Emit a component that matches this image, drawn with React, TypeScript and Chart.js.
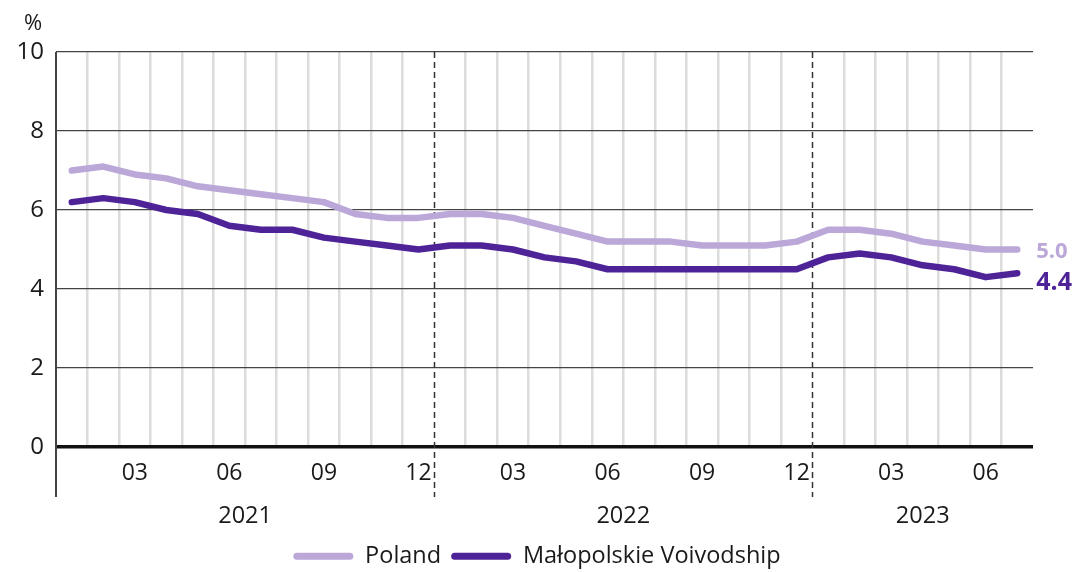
import React, { useEffect, useRef } from "react";
import { Chart, registerables } from "chart.js";

Chart.register(...registerables);

const categories = [
  "2021-01", "2021-02", "2021-03", "2021-04", "2021-05", "2021-06",
  "2021-07", "2021-08", "2021-09", "2021-10", "2021-11", "2021-12",
  "2022-01", "2022-02", "2022-03", "2022-04", "2022-05", "2022-06",
  "2022-07", "2022-08", "2022-09", "2022-10", "2022-11", "2022-12",
  "2023-01", "2023-02", "2023-03", "2023-04", "2023-05", "2023-06",
  "2023-07",
];
const years = ["2021", "2022", "2023"];
const monthTickLabels = ["03", "06", "09", "12"];
const seriesNames = ["Poland", "Małopolskie Voivodship"];
const polandValues = [
  7.0, 7.1, 6.9, 6.8, 6.6, 6.5, 6.4, 6.3, 6.2, 5.9, 5.8, 5.8,
  5.9, 5.9, 5.8, 5.6, 5.4, 5.2, 5.2, 5.2, 5.1, 5.1, 5.1, 5.2,
  5.5, 5.5, 5.4, 5.2, 5.1, 5.0, 5.0,
];
const malopolskieValues = [
  6.2, 6.3, 6.2, 6.0, 5.9, 5.6, 5.5, 5.5, 5.3, 5.2, 5.1, 5.0,
  5.1, 5.1, 5.0, 4.8, 4.7, 4.5, 4.5, 4.5, 4.5, 4.5, 4.5, 4.5,
  4.8, 4.9, 4.8, 4.6, 4.5, 4.3, 4.4,
];
const yMin = 0;
const yMax = 10;
const yStep = 2;
const unitLabel = "%";

const FONT = "'Open Sans', 'Noto Sans', sans-serif";
const LIGHT = "#BBA8D8";
const DARK = "#4F2398";
const TEXT = "#1a1a1a";

const decorPlugin = {
  id: "decor",
  beforeDatasetsDraw(chart: any) {
    const { ctx, chartArea, scales } = chart;
    const x = scales.x;
    const step = x.getPixelForValue(1) - x.getPixelForValue(0);
    ctx.save();
    // left axis line, extending below zero
    ctx.strokeStyle = "#444";
    ctx.lineWidth = 2;
    ctx.beginPath();
    ctx.moveTo(chartArea.left, chartArea.top);
    ctx.lineTo(chartArea.left, chartArea.bottom + 50);
    ctx.stroke();
    // dashed year separators
    ctx.setLineDash([6, 4]);
    ctx.lineWidth = 1.5;
    ctx.strokeStyle = "#333";
    categories.forEach((c, i) => {
      if (i > 0 && c.endsWith("-01")) {
        const px = Math.round(x.getPixelForValue(i) - step / 2) + 0.5;
        ctx.beginPath();
        ctx.moveTo(px, chartArea.top);
        ctx.lineTo(px, chartArea.bottom + 50);
        ctx.stroke();
      }
    });
    ctx.restore();
  },
  afterDraw(chart: any) {
    const { ctx, chartArea, scales } = chart;
    const x = scales.x;
    const step = x.getPixelForValue(1) - x.getPixelForValue(0);
    ctx.save();
    ctx.fillStyle = TEXT;
    ctx.font = `23.5px ${FONT}`;
    ctx.textAlign = "center";
    ctx.textBaseline = "middle";
    // year labels
    years.forEach((y) => {
      const idx = categories.map((c, i) => (c.startsWith(y) ? i : -1)).filter((i) => i >= 0);
      const left = x.getPixelForValue(idx[0]) - step / 2;
      const right = Math.min(x.getPixelForValue(idx[idx.length - 1]) + step / 2, chartArea.right);
      ctx.fillText(y, (left + right) / 2, chartArea.bottom + 69);
    });
    // unit label
    ctx.font = `22px ${FONT}`;
    ctx.fillText(unitLabel, 33, 24);
    // end value labels
    ctx.textAlign = "left";
    const offsets = [2, 10];
    const sizes = [22, 25];
    const colors = [LIGHT, DARK];
    [polandValues, malopolskieValues].forEach((vals, di) => {
      const meta = chart.getDatasetMeta(di);
      const pt = meta.data[vals.length - 1];
      ctx.font = `bold ${sizes[di]}px ${FONT}`;
      ctx.fillStyle = colors[di];
      ctx.fillText(vals[vals.length - 1].toFixed(1), pt.x + 19, pt.y + offsets[di]);
    });
    ctx.restore();
  },
};

export default function App() {
  const canvasRef = useRef<HTMLCanvasElement | null>(null);

  useEffect(() => {
    if (!canvasRef.current) return;
    const chart = new Chart(canvasRef.current, {
      type: "line",
      data: {
        labels: categories,
        datasets: [
          {
            label: seriesNames[0],
            data: polandValues,
            borderColor: LIGHT,
            backgroundColor: LIGHT,
            borderWidth: 6.5,
            borderCapStyle: "round",
            borderJoinStyle: "round",
            pointRadius: 0,
            tension: 0,
          },
          {
            label: seriesNames[1],
            data: malopolskieValues,
            borderColor: DARK,
            backgroundColor: DARK,
            borderWidth: 6.5,
            borderCapStyle: "round",
            borderJoinStyle: "round",
            pointRadius: 0,
            tension: 0,
          },
        ],
      },
      options: {
        responsive: false,
        animation: false,
        devicePixelRatio: 1,
        layout: { padding: { top: 52, left: 0, right: 0, bottom: -6 } },
        plugins: {
          tooltip: { enabled: false },
          legend: {
            position: "bottom",
            labels: {
              font: { family: FONT, size: 23.5 },
              color: TEXT,
              boxWidth: 60,
              boxHeight: 7,
              useBorderRadius: true,
              borderRadius: 3.5,
              padding: 10,
              generateLabels: (c: any) =>
                (Chart.defaults.plugins.legend.labels.generateLabels as any)(c).map((l: any) => ({
                  ...l,
                  lineWidth: 0,
                  fillStyle: l.strokeStyle,
                })),
            },
          },
        },
        scales: {
          x: {
            type: "category",
            offset: true,
            border: { display: false },
            grid: {
              offset: true,
              drawTicks: false,
              lineWidth: 2.5,
              color: (ctx: any) => {
                const i = ctx.index;
                if (i === undefined || i === 0) return "rgba(0,0,0,0)";
                if (categories[i] && categories[i].endsWith("-01")) return "rgba(0,0,0,0)";
                return "#dcdcdc";
              },
            },
            ticks: {
              autoSkip: false,
              maxRotation: 0,
              minRotation: 0,
              padding: 13,
              color: TEXT,
              font: { family: FONT, size: 23 },
              callback: (_v: any, index: number) => {
                const m = categories[index].slice(5);
                return monthTickLabels.includes(m) ? m : "";
              },
            },
            afterFit: (scale: any) => {
              scale.height = 87.5;
            },
          },
          y: {
            min: yMin,
            max: yMax,
            border: { display: false },
            grid: {
              drawTicks: false,
              color: (ctx: any) => (ctx.tick && ctx.tick.value === 0 ? "#111" : "#444"),
              lineWidth: (ctx: any) => (ctx.tick && ctx.tick.value === 0 ? 3.5 : 1.3),
            },
            ticks: {
              stepSize: yStep,
              padding: 12,
              color: TEXT,
              font: { family: FONT, size: 24 },
            },
            afterFit: (scale: any) => {
              scale.width = 56;
            },
          },
          yRight: {
            position: "right",
            min: yMin,
            max: yMax,
            display: true,
            border: { display: false },
            grid: { display: false, drawOnChartArea: false },
            ticks: { display: false },
            afterFit: (scale: any) => {
              scale.width = 41;
            },
          },
        },
      },
      plugins: [decorPlugin],
    } as any);
    return () => chart.destroy();
  }, []);

  return (
    <div style={{ position: "absolute", left: 0, top: 0, width: 1074, height: 572, background: "#fff" }}>
      <canvas ref={canvasRef} width={1074} height={572} style={{ display: "block" }} />
    </div>
  );
}
